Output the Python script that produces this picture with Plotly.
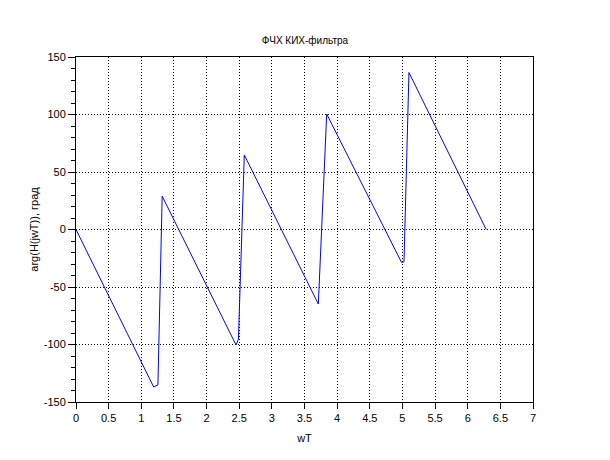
import plotly.graph_objects as go

# Phase response samples (wT in rad, phase in degrees)
wT = [0.0, 1.190, 1.255, 1.320, 2.451, 2.488, 2.578, 3.712, 3.840, 4.988, 5.024, 5.100, 6.283]
phase = [0.0, -137.0, -135.0, 29.0, -100.4, -95.5, 64.8, -64.8, 100.4, -28.8, -28.0, 136.5, 0.0]

x_ticks = [0, 0.5, 1, 1.5, 2, 2.5, 3, 3.5, 4, 4.5, 5, 5.5, 6, 6.5, 7]
x_labels = ["0", "0.5", "1", "1.5", "2", "2.5", "3", "3.5", "4", "4.5", "5", "5.5", "6", "6.5", "7"]
y_ticks = [-150, -100, -50, 0, 50, 100, 150]
y_labels = ["-150", "-100", "-50", "0", "50", "100", "150"]

title_text = "ФЧХ КИХ-фильтра"
x_title = "wT"
y_title = "arg(H(jwT)), град"

font_family = "Liberation Sans, Arial, sans-serif"

# page body has an 8px default margin, so the figure is sized to fit the window
W, H = 602, 452

fig = go.Figure()
fig.add_trace(go.Scatter(x=wT, y=phase, mode="lines",
                         line=dict(color="#0000ff", width=1),
                         showlegend=False, hoverinfo="skip"))

fig.update_layout(
    width=W, height=H,
    margin=dict(l=68, r=77, t=49, b=58, autoexpand=False),
    paper_bgcolor="white", plot_bgcolor="white",
    font=dict(family=font_family, size=11, color="black"),
    title=dict(text=title_text, x=(305 - 8) / W, xanchor="center", y=1 - 32 / H, yanchor="middle",
               font=dict(size=10, family=font_family, color="black")),
)

fig.update_xaxes(
    range=[0, 7], tickmode="array", tickvals=x_ticks, ticktext=x_labels,
    showline=True, linecolor="black", linewidth=1, mirror=True,
    ticks="outside", ticklen=6, tickcolor="black", tickwidth=1,
    showgrid=True, gridcolor="black", gridwidth=1, griddash="1px,2px",
    zeroline=False,
    title=dict(text=x_title, standoff=11, font=dict(size=11)),
    tickfont=dict(size=11),
)
fig.update_yaxes(
    range=[-150, 150], tickmode="array", tickvals=y_ticks, ticktext=y_labels,
    showline=True, linecolor="black", linewidth=1, mirror=True,
    ticks="outside", ticklen=7, tickcolor="black", tickwidth=1,
    minor=dict(dtick=10, tick0=0, ticks="outside", ticklen=4, tickcolor="black", showgrid=False),
    showgrid=True, gridcolor="black", gridwidth=1, griddash="1px,2px",
    zeroline=False,
    title=dict(text=y_title, standoff=2, font=dict(size=11)),
    tickfont=dict(size=11),
)

fig.write_html("out.html")
